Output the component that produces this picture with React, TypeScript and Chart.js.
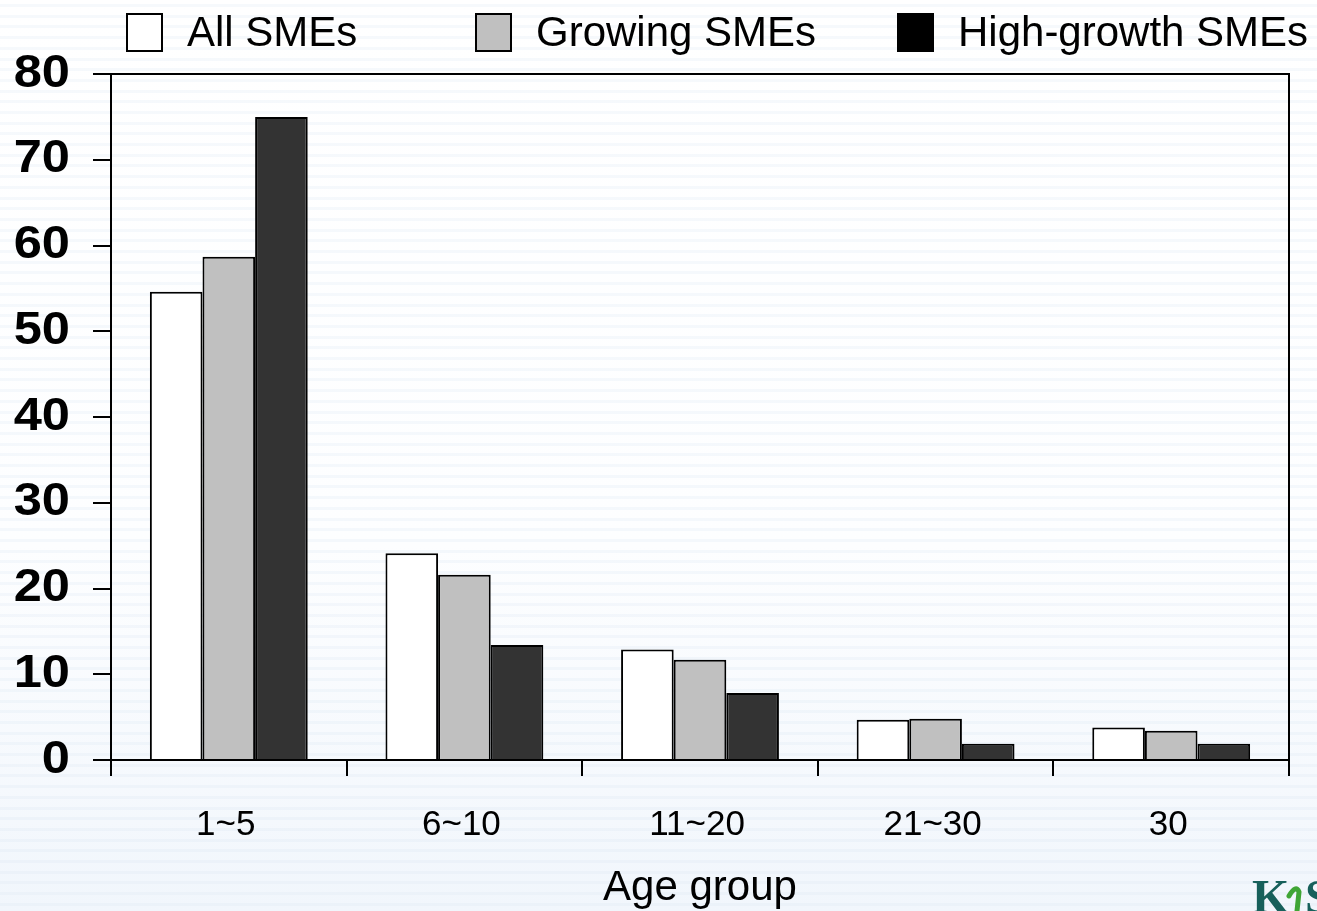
import React, { useEffect, useRef } from "react";
import { Chart, registerables } from "chart.js";

Chart.register(...registerables);

// Share of firms by age group (%)
const ageGroups = ["1~5", "6~10", "11~20", "21~30", "30"];
const seriesNames = ["All SMEs", "Growing SMEs", "High-growth SMEs"];
const allSmes = [54.6, 24.1, 12.9, 4.7, 3.8];
const growingSmes = [58.7, 21.6, 11.7, 4.8, 3.4];
const highGrowthSmes = [75.0, 13.4, 7.8, 1.9, 1.9];
const barColors = ["#FFFFFF", "#C0C0C0", "#333333"];
const swatchColors = ["#FFFFFF", "#C0C0C0", "#000000"];

const W = 1317;
const H = 911;

// Slide-style background: faint horizontal stripes fading to a pale blue
const backgroundPlugin = {
  id: "slideBackground",
  beforeDraw(chart: any) {
    const { ctx, width, height } = chart;
    ctx.save();
    const g = ctx.createLinearGradient(0, 0, 0, height);
    g.addColorStop(0, "#FFFFFF");
    g.addColorStop(0.6, "#FDFEFF");
    g.addColorStop(1, "#F1F6FC");
    ctx.fillStyle = g;
    ctx.fillRect(0, 0, width, height);
    ctx.fillStyle = "rgba(214,226,240,0.22)";
    for (let y = 4; y < height; y += 10.7) {
      ctx.fillRect(0, Math.round(y), width, 3);
    }
    ctx.restore();
  },
};

// Frame, bold y labels, legend row and corner logo
const decorPlugin = {
  id: "decor",
  afterDraw(chart: any) {
    const { ctx, chartArea } = chart;
    const yScale = chart.scales.y;
    ctx.save();

    // top and right frame lines
    ctx.strokeStyle = "#000000";
    ctx.lineWidth = 2;
    ctx.beginPath();
    ctx.moveTo(chartArea.left, chartArea.top);
    ctx.lineTo(chartArea.right, chartArea.top);
    ctx.lineTo(chartArea.right, chartArea.bottom);
    ctx.stroke();

    // y tick labels (wide bold digits)
    ctx.fillStyle = "#000000";
    ctx.font = 'bold 46px "Liberation Sans", Arial, sans-serif';
    ctx.textAlign = "right";
    ctx.textBaseline = "middle";
    yScale.ticks.forEach((t: any) => {
      const y = yScale.getPixelForValue(t.value);
      ctx.save();
      ctx.translate(70, y);
      ctx.scale(1.1, 1);
      ctx.fillText(String(t.value), 0, 0);
      ctx.restore();
    });

    // legend
    const boxX = [127, 476, 898];
    ctx.font = '42px "Liberation Sans", Arial, sans-serif';
    ctx.textAlign = "left";
    ctx.textBaseline = "alphabetic";
    chart.data.datasets.forEach((ds: any, i: number) => {
      ctx.fillStyle = swatchColors[i];
      ctx.fillRect(boxX[i], 14, 35, 37);
      ctx.lineWidth = 2;
      ctx.strokeStyle = "#000000";
      ctx.strokeRect(boxX[i], 14, 35, 37);
      ctx.fillStyle = "#000000";
      ctx.fillText(ds.label, boxX[i] + 60, 46);
    });

    // corner logo
    ctx.textBaseline = "alphabetic";
    ctx.font = 'bold 48px "Liberation Serif", serif';
    ctx.fillStyle = "#17605B";
    ctx.fillText("K", 1252, 913);
    ctx.strokeStyle = "#3FA535";
    ctx.lineWidth = 5;
    ctx.lineCap = "round";
    ctx.beginPath();
    ctx.moveTo(1289, 896);
    ctx.quadraticCurveTo(1296, 884, 1299, 892);
    ctx.lineTo(1297, 911);
    ctx.stroke();
    ctx.fillStyle = "#17605B";
    ctx.fillText("S", 1305, 913);

    ctx.restore();
  },
};

export default function App() {
  const canvasRef = useRef<HTMLCanvasElement | null>(null);

  useEffect(() => {
    if (!canvasRef.current) return;
    const chart = new Chart(canvasRef.current, {
      type: "bar",
      data: {
        labels: ageGroups,
        datasets: [allSmes, growingSmes, highGrowthSmes].map((values, i) => ({
          label: seriesNames[i],
          data: values,
          backgroundColor: barColors[i],
          borderColor: "#000000",
          borderWidth: 2,
          borderSkipped: "start",
          categoryPercentage: 0.67,
          barPercentage: 1.0,
        })),
      },
      options: {
        responsive: false,
        animation: false,
        layout: { padding: { left: 0, top: 74, right: 28, bottom: 0 } },
        plugins: {
          legend: { display: false },
          tooltip: { enabled: false },
        },
        scales: {
          x: {
            afterFit(scale: any) {
              scale.height = H - 760;
            },
            grid: {
              offset: true,
              drawOnChartArea: false,
              drawTicks: true,
              tickLength: 16,
              color: "#000000",
              lineWidth: 2,
            },
            border: { display: true, color: "#000000", width: 2 },
            ticks: {
              color: "#000000",
              padding: 28,
              labelOffset: -3,
              font: { family: '"Liberation Sans", Arial, sans-serif', size: 35 },
              maxRotation: 0,
            },
            title: {
              display: true,
              text: "Age group",
              color: "#000000",
              font: { family: '"Liberation Sans", Arial, sans-serif', size: 42 },
              padding: { top: 0, bottom: -3 },
            },
          },
          y: {
            min: 0,
            max: 80,
            afterFit(scale: any) {
              scale.width = 111;
            },
            ticks: { stepSize: 10, display: false },
            grid: {
              drawOnChartArea: false,
              drawTicks: true,
              tickLength: 18,
              color: "#000000",
              lineWidth: 2,
            },
            border: { display: true, color: "#000000", width: 2 },
          },
        },
      },
      plugins: [backgroundPlugin, decorPlugin],
    });
    return () => chart.destroy();
  }, []);

  return (
    <div style={{ position: "fixed", left: 0, top: 0, width: W, height: H }}>
      <canvas ref={canvasRef} width={W} height={H} style={{ display: "block" }} />
    </div>
  );
}
